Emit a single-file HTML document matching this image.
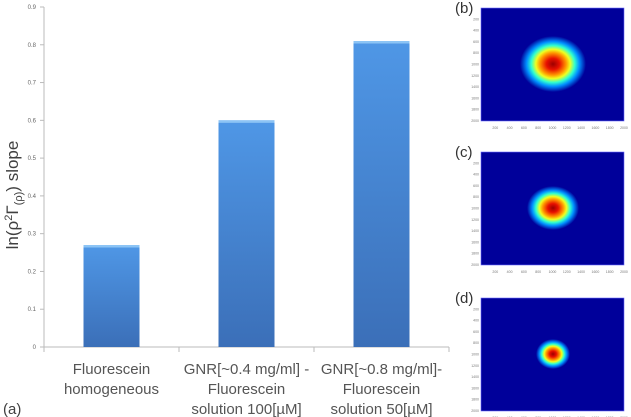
<!DOCTYPE html>
<html><head><meta charset="utf-8"><style>
body{margin:0;background:#fff;width:631px;height:417px;overflow:hidden}
svg{display:block;font-family:"Liberation Sans",sans-serif}
</style></head><body>
<svg width="631" height="417">
<defs>
<linearGradient id="bg" x1="0" y1="0" x2="0" y2="1">
<stop offset="0" stop-color="#4f97e6"/><stop offset="1" stop-color="#3b6fb8"/></linearGradient>
<radialGradient id="jet">
<stop offset="0" stop-color="#9c0000"/><stop offset="0.2" stop-color="#e81000"/>
<stop offset="0.4" stop-color="#ff9a00"/><stop offset="0.52" stop-color="#f0ff20"/>
<stop offset="0.66" stop-color="#30ffd0"/><stop offset="0.8" stop-color="#0090ff"/>
<stop offset="1" stop-color="#00009a"/></radialGradient>
</defs>
<g id="chart"></g>
<text transform="translate(18,195) rotate(-90)" text-anchor="middle" font-size="17" fill="#404040">ln(ρ<tspan dy="-6" font-size="11">2</tspan><tspan dy="6">Γ</tspan><tspan dy="4" font-size="11">(ρ)</tspan><tspan dy="-4">) slope</tspan></text>
<text x="3" y="414" font-size="15" fill="#404040">(a)</text>
<g id="maps"></g>
</svg>
<script>
const categories=[["Fluorescein","homogeneous"],["GNR[~0.4 mg/ml] -","Fluorescein","solution 100[µM]"],["GNR[~0.8 mg/ml]-","Fluorescein","solution 50[µM]"]];
const values=[0.27,0.60,0.81];
const yTicks=[0,0.1,0.2,0.3,0.4,0.5,0.6,0.7,0.8,0.9];
const ns="http://www.w3.org/2000/svg";
const g=document.getElementById('chart');
const x0=44,cw=135,y0=347,yTop=7,yMax=0.9;
const ys=v=>y0-(v/yMax)*(y0-yTop);
function mk(t,a,p){const e=document.createElementNS(ns,t);for(const k in a)e.setAttribute(k,a[k]);(p||g).appendChild(e);return e;}
const ax=mk('line',{x1:x0,y1:y0,x2:x0+cw*categories.length,y2:y0,stroke:'#bbb'});


const ay=mk('line',{x1:x0,y1:yTop,x2:x0,y2:y0,stroke:'#bbb'});


yTicks.forEach(v=>{
 mk('line',{x1:x0-4,y1:ys(v),x2:x0,y2:ys(v),stroke:'#bbb'});
 const t=mk('text',{x:x0-8,y:ys(v)+2,'text-anchor':'end','font-size':6,fill:'#666'});
 t.textContent=v===0?'0':v.toFixed(1);
 
 
});
for(let i=0;i<=categories.length;i++)mk('line',{x1:x0+i*cw,y1:y0,x2:x0+i*cw,y2:y0+5,stroke:'#bbb'});
categories.forEach((c,i)=>{
 const cx=x0+cw*i+cw/2;
 const r=mk('rect',{x:cx-28,y:ys(values[i]),width:56,height:y0-ys(values[i]),fill:'url(#bg)'});
 
 
 mk('rect',{x:cx-28,y:ys(values[i]),width:56,height:2.5,fill:'#8cc4f5'});
 c.forEach((l,j)=>{
  const t=mk('text',{x:cx,y:374+j*20,'text-anchor':'middle','font-size':15,fill:'#555'});
  t.textContent=l;
  
  
 });
});
const mg=document.getElementById('maps');
const maps=[{l:'(b)',y:8,rx:33,ry:28},{l:'(c)',y:152,rx:26,ry:22},{l:'(d)',y:298,rx:17,ry:15}];
const xt=[200,400,600,800,1000,1200,1400,1600,1800,2000];
maps.forEach((m,i)=>{
 const grp=mk('g',{},mg);
 
 
 mk('rect',{x:481,y:m.y,width:143,height:113,fill:'#00009a',stroke:'#6a6aff','stroke-width':0.6},grp);
 mk('ellipse',{cx:553,cy:m.y+56,rx:m.rx,ry:m.ry,fill:'url(#jet)'},grp);
 const t=mk('text',{x:455,y:m.y+5,'font-size':15,fill:'#333'},grp);t.textContent=m.l;
 xt.forEach((v,k)=>{const tt=mk('text',{x:481+(k+1)*14.3,y:m.y+121,'text-anchor':'middle','font-size':3.5,fill:'#777'},grp);tt.textContent=v;
  const ty=mk('text',{x:479,y:m.y+(k+1)*11.3+1,'text-anchor':'end','font-size':3.5,fill:'#777'},grp);ty.textContent=v;});
});
</script>
</body></html>
